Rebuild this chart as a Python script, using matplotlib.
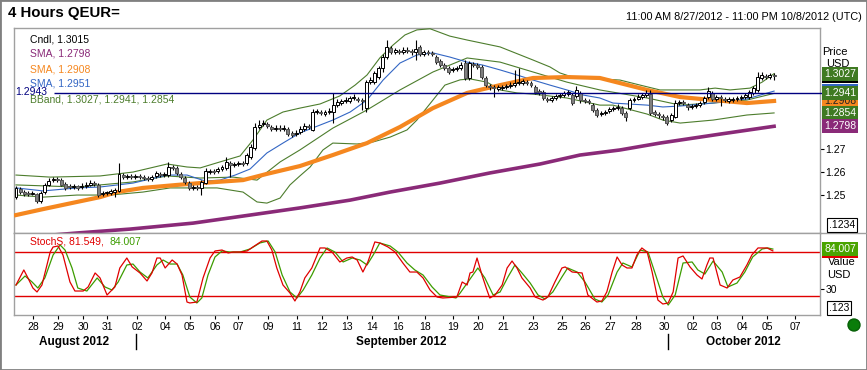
import matplotlib
matplotlib.use("Agg")
import matplotlib.pyplot as plt
from matplotlib.patches import Rectangle, Ellipse
from matplotlib.lines import Line2D
from matplotlib.transforms import blended_transform_factory
import numpy as np

plt.rcParams["font.family"] = ["Liberation Sans", "DejaVu Sans"]

# ---- 4h candles, QEUR= 27 Aug - 5 Oct 2012 ----
OPEN = [
    1.2490, 1.2525, 1.2512, 1.2508, 1.2504, 1.2504, 1.2473, 1.2512, 1.2543, 1.2564,
    1.2569, 1.2564, 1.2547, 1.2538, 1.2534, 1.2538, 1.2534, 1.2538, 1.2543, 1.2551,
    1.2543, 1.2504, 1.2508, 1.2508, 1.2512, 1.2517, 1.2586, 1.2577, 1.2582, 1.2577,
    1.2582, 1.2577, 1.2573, 1.2569, 1.2582, 1.2591, 1.2586, 1.2586, 1.2621, 1.2617,
    1.2591, 1.2573, 1.2551, 1.2530, 1.2534, 1.2530, 1.2551, 1.2599, 1.2604, 1.2604,
    1.2612, 1.2617, 1.2638, 1.2630, 1.2634, 1.2638, 1.2638, 1.2664, 1.2704, 1.2795,
    1.2808, 1.2808, 1.2795, 1.2786, 1.2790, 1.2786, 1.2786, 1.2769, 1.2764, 1.2773,
    1.2786, 1.2799, 1.2782, 1.2860, 1.2860, 1.2851, 1.2860, 1.2860, 1.2890, 1.2899,
    1.2908, 1.2908, 1.2921, 1.2917, 1.2912, 1.2877, 1.2990, 1.2990, 1.3012, 1.3051,
    1.3099, 1.3138, 1.3121, 1.3125, 1.3121, 1.3130, 1.3125, 1.3121, 1.3143, 1.3112,
    1.3121, 1.3117, 1.3099, 1.3082, 1.3064, 1.3051, 1.3043, 1.3047, 1.3051, 1.3073,
    1.3008, 1.3069, 1.3064, 1.3056, 1.3008, 1.2973, 1.2969, 1.2960, 1.2964, 1.2969,
    1.2973, 1.2977, 1.2986, 1.2986, 1.2990, 1.2986, 1.2969, 1.2951, 1.2947, 1.2917,
    1.2912, 1.2921, 1.2930, 1.2934, 1.2938, 1.2934, 1.2930, 1.2943, 1.2912, 1.2908,
    1.2890, 1.2869, 1.2851, 1.2856, 1.2864, 1.2873, 1.2877, 1.2877, 1.2856, 1.2877,
    1.2912, 1.2917, 1.2925, 1.2934, 1.2938, 1.2860, 1.2851, 1.2843, 1.2838, 1.2825,
    1.2838, 1.2899, 1.2903, 1.2890, 1.2882, 1.2886, 1.2890, 1.2903, 1.2925, 1.2943,
    1.2917, 1.2925, 1.2917, 1.2908, 1.2912, 1.2917, 1.2921, 1.2925, 1.2925, 1.2943,
    1.2956, 1.3008, 1.3017, 1.3012, 1.3021,
]
HIGH = [
    1.2538, 1.2534, 1.2521, 1.2517, 1.2517, 1.2508, 1.2517, 1.2551, 1.2573, 1.2577,
    1.2577, 1.2573, 1.2556, 1.2547, 1.2547, 1.2543, 1.2551, 1.2556, 1.2564, 1.2560,
    1.2551, 1.2517, 1.2517, 1.2525, 1.2530, 1.2638, 1.2595, 1.2591, 1.2591, 1.2591,
    1.2591, 1.2586, 1.2582, 1.2586, 1.2604, 1.2599, 1.2599, 1.2643, 1.2630, 1.2625,
    1.2599, 1.2582, 1.2560, 1.2543, 1.2543, 1.2564, 1.2617, 1.2612, 1.2612, 1.2621,
    1.2630, 1.2664, 1.2647, 1.2643, 1.2647, 1.2647, 1.2682, 1.2721, 1.2812, 1.2825,
    1.2825, 1.2817, 1.2803, 1.2803, 1.2803, 1.2803, 1.2795, 1.2777, 1.2782, 1.2799,
    1.2812, 1.2808, 1.2873, 1.2873, 1.2869, 1.2869, 1.2877, 1.2943, 1.2917, 1.2917,
    1.2925, 1.2930, 1.2938, 1.2925, 1.2921, 1.2999, 1.3012, 1.3038, 1.3060, 1.3112,
    1.3173, 1.3147, 1.3138, 1.3134, 1.3143, 1.3143, 1.3134, 1.3173, 1.3151, 1.3130,
    1.3130, 1.3125, 1.3108, 1.3091, 1.3073, 1.3060, 1.3056, 1.3060, 1.3077, 1.3086,
    1.3082, 1.3077, 1.3073, 1.3064, 1.3017, 1.2982, 1.2977, 1.2977, 1.2977, 1.2982,
    1.2990, 1.3043, 1.3051, 1.3004, 1.2999, 1.2995, 1.2977, 1.2960, 1.2956, 1.2925,
    1.2930, 1.2938, 1.2943, 1.2951, 1.2956, 1.2943, 1.2973, 1.2951, 1.2921, 1.2917,
    1.2899, 1.2877, 1.2864, 1.2869, 1.2882, 1.2886, 1.2895, 1.2886, 1.2864, 1.2921,
    1.2925, 1.2938, 1.2943, 1.2956, 1.2956, 1.2869, 1.2860, 1.2851, 1.2847, 1.2856,
    1.2912, 1.2912, 1.2912, 1.2899, 1.2895, 1.2899, 1.2908, 1.2930, 1.2969, 1.2951,
    1.2934, 1.2934, 1.2925, 1.2925, 1.2925, 1.2930, 1.2934, 1.2943, 1.2956, 1.2973,
    1.3034, 1.3034, 1.3025, 1.3030, 1.3030,
]
LOW = [
    1.2482, 1.2504, 1.2495, 1.2495, 1.2499, 1.2464, 1.2464, 1.2504, 1.2538, 1.2556,
    1.2556, 1.2538, 1.2521, 1.2525, 1.2525, 1.2521, 1.2525, 1.2530, 1.2538, 1.2538,
    1.2490, 1.2495, 1.2499, 1.2499, 1.2490, 1.2512, 1.2569, 1.2569, 1.2569, 1.2569,
    1.2569, 1.2564, 1.2560, 1.2560, 1.2573, 1.2577, 1.2577, 1.2577, 1.2608, 1.2586,
    1.2569, 1.2547, 1.2521, 1.2521, 1.2521, 1.2499, 1.2547, 1.2591, 1.2591, 1.2595,
    1.2604, 1.2608, 1.2577, 1.2621, 1.2625, 1.2625, 1.2630, 1.2656, 1.2695, 1.2786,
    1.2799, 1.2790, 1.2777, 1.2777, 1.2777, 1.2777, 1.2756, 1.2751, 1.2756, 1.2764,
    1.2777, 1.2786, 1.2777, 1.2851, 1.2847, 1.2843, 1.2851, 1.2812, 1.2882, 1.2890,
    1.2899, 1.2899, 1.2912, 1.2903, 1.2869, 1.2860, 1.2982, 1.2982, 1.3004, 1.3034,
    1.3091, 1.3112, 1.3112, 1.3112, 1.3112, 1.3117, 1.3108, 1.3086, 1.3104, 1.3104,
    1.3108, 1.3104, 1.3069, 1.3056, 1.3043, 1.3025, 1.3034, 1.3038, 1.3043, 1.2999,
    1.2999, 1.3056, 1.3047, 1.3004, 1.2969, 1.2956, 1.2925, 1.2951, 1.2956, 1.2960,
    1.2964, 1.2969, 1.2977, 1.2977, 1.2977, 1.2969, 1.2938, 1.2934, 1.2912, 1.2903,
    1.2903, 1.2912, 1.2921, 1.2925, 1.2930, 1.2890, 1.2921, 1.2899, 1.2899, 1.2895,
    1.2860, 1.2838, 1.2843, 1.2847, 1.2856, 1.2864, 1.2869, 1.2847, 1.2821, 1.2869,
    1.2903, 1.2912, 1.2917, 1.2925, 1.2847, 1.2843, 1.2834, 1.2825, 1.2803, 1.2817,
    1.2834, 1.2890, 1.2890, 1.2869, 1.2873, 1.2877, 1.2882, 1.2895, 1.2917, 1.2908,
    1.2908, 1.2886, 1.2903, 1.2899, 1.2903, 1.2908, 1.2912, 1.2917, 1.2917, 1.2934,
    1.2947, 1.2999, 1.3004, 1.3004, 1.2999,
]
CLOSE = [
    1.2530, 1.2512, 1.2504, 1.2504, 1.2508, 1.2473, 1.2508, 1.2543, 1.2560, 1.2569,
    1.2564, 1.2543, 1.2530, 1.2534, 1.2538, 1.2530, 1.2538, 1.2543, 1.2551, 1.2547,
    1.2499, 1.2508, 1.2512, 1.2517, 1.2521, 1.2591, 1.2577, 1.2582, 1.2577, 1.2582,
    1.2577, 1.2573, 1.2569, 1.2577, 1.2595, 1.2586, 1.2591, 1.2621, 1.2617, 1.2595,
    1.2577, 1.2556, 1.2530, 1.2534, 1.2530, 1.2556, 1.2604, 1.2604, 1.2599, 1.2612,
    1.2621, 1.2643, 1.2630, 1.2634, 1.2638, 1.2634, 1.2673, 1.2708, 1.2795, 1.2803,
    1.2812, 1.2799, 1.2786, 1.2790, 1.2786, 1.2790, 1.2764, 1.2760, 1.2769, 1.2786,
    1.2799, 1.2795, 1.2860, 1.2864, 1.2856, 1.2860, 1.2864, 1.2890, 1.2903, 1.2908,
    1.2912, 1.2921, 1.2925, 1.2912, 1.2908, 1.2990, 1.2999, 1.3030, 1.3051, 1.3099,
    1.3143, 1.3121, 1.3130, 1.3121, 1.3130, 1.3125, 1.3121, 1.3134, 1.3112, 1.3121,
    1.3117, 1.3112, 1.3077, 1.3064, 1.3051, 1.3034, 1.3047, 1.3051, 1.3064, 1.3008,
    1.3073, 1.3064, 1.3056, 1.3012, 1.2977, 1.2969, 1.2964, 1.2969, 1.2969, 1.2973,
    1.2977, 1.2986, 1.2990, 1.2995, 1.2986, 1.2977, 1.2947, 1.2943, 1.2921, 1.2912,
    1.2921, 1.2930, 1.2934, 1.2943, 1.2947, 1.2899, 1.2956, 1.2912, 1.2908, 1.2903,
    1.2869, 1.2847, 1.2856, 1.2860, 1.2873, 1.2877, 1.2882, 1.2856, 1.2838, 1.2912,
    1.2917, 1.2925, 1.2934, 1.2943, 1.2856, 1.2851, 1.2847, 1.2838, 1.2812, 1.2847,
    1.2899, 1.2903, 1.2899, 1.2882, 1.2886, 1.2890, 1.2899, 1.2921, 1.2951, 1.2917,
    1.2925, 1.2921, 1.2912, 1.2917, 1.2917, 1.2921, 1.2925, 1.2934, 1.2947, 1.2964,
    1.3012, 1.3021, 1.3012, 1.3021, 1.3015,
]

# ---- overlays: vertices (bar position, value) ----
SMA_LONG_BAR = [0, 14.8, 27.7, 43.0, 56.8, 68.9, 81.1, 90.8, 102.9, 115.0, 127.2,
                136.9, 146.6, 156.3, 170.9, 184]
SMA_LONG_VAL = [1.2312, 1.2334, 1.2351, 1.2377, 1.2412, 1.2443, 1.2477, 1.2512,
                1.2551, 1.2595, 1.2634, 1.2673, 1.2695, 1.2725, 1.2764, 1.2798]

SMA_MID_BAR = [0, 6.6, 14.8, 20.4, 24.5, 30.8, 39.1, 44.7, 55.1, 60.9, 68.9, 76.9,
               85.2, 93.2, 101.2, 109.5, 117.5, 125.5, 133.7, 141.7, 153.2, 161.2,
               169.2, 177.4, 184]
SMA_MID_VAL = [1.2412, 1.2438, 1.2469, 1.2490, 1.2512, 1.2530, 1.2543, 1.2551,
               1.2564, 1.2591, 1.2625, 1.2673, 1.2725, 1.2795, 1.2877, 1.2943,
               1.2977, 1.3008, 1.3012, 1.3008, 1.2956, 1.2925, 1.2912, 1.2899, 1.2908]

SMA_SHORT_BAR = [0, 6.6, 14.8, 20.4, 28.4, 36.7, 41.5, 45.9, 49.5, 53.2, 56.8, 60.9,
                 64.8, 68.9, 76.9, 81.1, 85.2, 89.1, 93.2, 97.3, 101.2, 105.3, 109.5,
                 113.3, 117.5, 121.6, 125.5, 129.6, 133.7, 137.6, 141.7, 144.9, 153.2,
                 157.0, 161.2, 169.2, 177.4, 184]
SMA_SHORT_VAL = [1.2530, 1.2517, 1.2530, 1.2534, 1.2551, 1.2586, 1.2586, 1.2560,
                 1.2564, 1.2586, 1.2612, 1.2682, 1.2725, 1.2769, 1.2825, 1.2860,
                 1.2912, 1.2999, 1.3073, 1.3108, 1.3117, 1.3099, 1.3077, 1.3064,
                 1.3043, 1.3021, 1.2999, 1.2977, 1.2956, 1.2934, 1.2921, 1.2899,
                 1.2890, 1.2882, 1.2886, 1.2899, 1.2917, 1.2951]

BB_UP_BAR = [0, 8.3, 20.4, 28.4, 36.7, 41.5, 44.7, 49.5, 54.4, 57.5, 60.9, 64.8, 68.9,
             73.8, 78.6, 82.3, 85.2, 88.3, 91.5, 94.4, 97.3, 100.5, 105.3, 109.5,
             117.5, 125.5, 129.6, 132.0, 135.7, 141.7, 146.6, 151.5, 156.3, 166.0,
             169.7, 173.3, 178.2, 181.1, 184]
BB_UP_VAL = [1.2586, 1.2577, 1.2582, 1.2599, 1.2634, 1.2621, 1.2617, 1.2643, 1.2669,
             1.2738, 1.2825, 1.2860, 1.2877, 1.2895, 1.2930, 1.2977, 1.3021, 1.3095,
             1.3151, 1.3195, 1.3217, 1.3222, 1.3190, 1.3173, 1.3143, 1.3086, 1.3056,
             1.3030, 1.3008, 1.3004, 1.2999, 1.2977, 1.2956, 1.2956, 1.2964, 1.2956,
             1.2964, 1.2990, 1.3027]

BB_MID_BAR = [0, 14.8, 28.4, 36.7, 44.7, 52.7, 58.5, 64.1, 68.9, 76.9, 85.2, 93.2,
              101.2, 109.5, 117.5, 125.5, 133.7, 141.7, 153.2, 161.2, 169.2, 177.4, 184]
BB_MID_VAL = [1.2543, 1.2534, 1.2556, 1.2582, 1.2573, 1.2577, 1.2564, 1.2643, 1.2695,
              1.2790, 1.2869, 1.2956, 1.3034, 1.3095, 1.3077, 1.3034, 1.2990, 1.2956,
              1.2921, 1.2890, 1.2899, 1.2912, 1.2941]

BB_LOW_BAR = [0, 6.6, 14.8, 22.8, 30.8, 37.4, 48.8, 55.1, 58.5, 60.9, 64.1, 66.5,
              68.9, 71.4, 74.5, 76.9, 82.8, 86.7, 90.8, 94.9, 97.3, 101.2, 104.1,
              107.8, 110.2, 114.3, 117.5, 121.6, 125.5, 133.7, 141.7, 144.9, 153.2,
              157.0, 161.2, 169.2, 177.4, 184]
BB_LOW_VAL = [1.2499, 1.2490, 1.2499, 1.2499, 1.2512, 1.2530, 1.2530, 1.2512, 1.2469,
              1.2464, 1.2486, 1.2543, 1.2582, 1.2621, 1.2695, 1.2725, 1.2721, 1.2730,
              1.2751, 1.2782, 1.2825, 1.2912, 1.2977, 1.3000, 1.3004, 1.2990, 1.2956,
              1.2943, 1.2938, 1.2921, 1.2890, 1.2890, 1.2851, 1.2825, 1.2812, 1.2825,
              1.2847, 1.2856]

# ---- slow stochastic (%K red, %D green) ----
K_BAR = [0, 1.9, 2.9, 4.1, 5.1, 6.3, 8.3, 9.0, 10.2, 11.4,
         13.1, 14.3, 16.3, 17.5, 19.2, 20.4, 22.1, 24.0, 25.2, 26.9,
         28.2, 30.1, 31.8, 33.0, 34.2, 35.0, 36.2, 37.9, 39.1, 40.3,
         41.5, 42.2, 43.9, 45.4, 47.1, 48.3, 50.0, 51.5, 52.7, 54.4,
         56.1, 57.5, 59.7, 60.9, 62.1, 63.3, 64.8, 66.5, 67.7, 68.9,
         70.1, 71.8, 72.6, 73.8, 75.0, 76.7, 78.6, 80.3, 81.6, 82.8,
         84.2, 85.4, 87.1, 88.3, 90.3, 92.0, 93.9, 95.6, 97.3, 98.8,
         100.5, 102.2, 103.6, 107.0, 108.3, 109.5, 110.2, 110.9, 111.9, 113.1,
         114.3, 115.0, 116.3, 118.0, 119.2, 120.4, 121.6, 122.8, 124.8, 126.0,
         127.9, 129.1, 130.8, 132.5, 133.3, 135.0, 137.4, 138.8, 141.0, 142.2,
         143.4, 144.7, 145.9, 147.1, 148.3, 149.5, 150.7, 151.9, 153.2, 154.4,
         155.8, 157.0, 158.3, 159.5, 160.7, 161.9, 163.6, 165.3, 166.5, 167.7,
         168.4, 169.2, 170.9, 172.6, 174.0, 175.7, 177.4, 178.6, 180.1, 182.3,
         183.7]
K_VAL = [35.0, 55.5, 44.6, 30.9, 25.5, 35.0, 80.0, 86.8, 88.2, 75.9,
         39.1, 26.8, 26.8, 32.3, 51.4, 44.6, 21.4, 32.3, 58.2, 71.8,
         59.6, 51.4, 40.5, 51.4, 71.8, 71.8, 58.2, 69.1, 63.6, 48.6,
         11.8, 10.5, 11.8, 44.6, 71.8, 81.4, 82.7, 78.7, 80.0, 80.0,
         81.4, 86.8, 95.0, 95.0, 82.7, 58.2, 35.0, 24.1, 13.2, 25.5,
         44.6, 58.2, 69.1, 85.5, 85.5, 80.0, 66.4, 71.8, 73.2, 69.1,
         52.7, 66.4, 93.7, 92.3, 86.8, 80.0, 65.0, 52.7, 52.7, 44.6,
         28.2, 18.6, 17.3, 18.6, 39.1, 35.0, 51.4, 52.7, 71.8, 48.6,
         28.2, 17.3, 21.4, 35.0, 58.2, 67.7, 58.2, 44.6, 30.9, 18.6,
         14.5, 18.6, 39.1, 58.2, 59.6, 52.7, 51.4, 21.4, 11.8, 13.2,
         25.5, 52.7, 73.2, 62.3, 58.2, 58.2, 75.9, 85.5, 80.0, 52.7,
         14.5, 9.1, 10.5, 25.5, 71.8, 74.6, 59.6, 48.6, 43.2, 62.3,
         71.8, 71.8, 35.0, 30.9, 41.8, 45.9, 62.3, 75.9, 85.5, 85.5,
         81.5]
D_BAR = [0, 2.2, 3.9, 5.3, 7.0, 9.0, 10.7, 11.9, 13.6, 15.0,
         17.2, 19.7, 21.6, 23.3, 24.8, 26.9, 28.4, 30.1, 32.0, 34.2,
         35.7, 37.4, 39.1, 40.5, 42.2, 43.9, 45.1, 46.6, 48.3, 50.0,
         51.9, 54.4, 56.8, 59.2, 61.2, 62.9, 64.6, 66.5, 68.2, 69.7,
         71.8, 73.8, 75.5, 77.4, 79.4, 81.6, 83.5, 85.2, 86.7, 88.3,
         90.8, 92.7, 94.9, 96.8, 98.8, 101.0, 102.9, 106.8, 107.8, 109.7,
         112.1, 113.8, 115.8, 117.5, 119.4, 121.1, 122.8, 124.8, 126.7, 128.4,
         130.3, 132.5, 133.9, 136.2, 138.1, 140.5, 142.2, 143.7, 145.9, 147.3,
         149.5, 151.5, 153.4, 155.1, 157.0, 158.3, 160.0, 161.9, 164.1, 165.5,
         167.2, 169.2, 171.4, 172.8, 175.0, 176.9, 178.8, 181.1, 182.5, 183.7]
D_VAL = [35.0, 47.3, 39.1, 30.9, 44.6, 75.9, 89.6, 82.7, 58.2, 30.9,
         26.8, 44.6, 32.3, 28.2, 39.1, 62.3, 63.6, 52.7, 44.6, 62.3,
         69.1, 63.6, 63.6, 48.6, 18.6, 10.5, 17.3, 48.6, 73.2, 81.4,
         80.0, 80.0, 84.1, 92.3, 95.0, 80.0, 48.6, 25.5, 17.3, 28.2,
         48.6, 71.8, 85.5, 80.0, 66.4, 71.8, 69.1, 62.3, 75.9, 92.3,
         88.2, 80.0, 65.0, 55.5, 48.6, 32.3, 21.4, 17.3, 24.1, 39.1,
         58.2, 44.6, 21.4, 25.5, 45.9, 62.3, 51.4, 37.7, 21.4, 15.9,
         25.5, 45.9, 58.2, 52.7, 39.1, 15.9, 11.8, 21.4, 52.7, 65.0,
         59.6, 82.7, 80.0, 51.4, 18.6, 7.7, 21.4, 65.0, 66.4, 55.5,
         50.0, 67.7, 52.7, 32.3, 37.7, 52.7, 73.2, 84.1, 85.5, 84.0]
STOCH_BANDS = [20, 80]

# ---- date axis ----
TICK_BAR = [4.1, 10.2, 16.3, 22.1, 29.4, 36.2, 42.2, 48.3, 53.9, 61.2, 68.2, 74.3,
            80.3, 86.4, 92.7, 99.3, 106.1, 112.1, 118.2, 125.5, 132.5, 138.1, 144.2,
            150.5, 157.3, 164.3, 170.1, 176.2, 182.3, 189.1]
TICK_LABELS = ["28", "29", "30", "31", "02", "04", "05", "06", "07", "09", "11", "12",
               "13", "14", "16", "18", "19", "20", "21", "23", "25", "26", "27", "28",
               "30", "02", "03", "04", "05", "07"]
MONTHS = ["August 2012", "September 2012", "October 2012"]
MONTH_BAR = [14.2, 93.4, 176.5]
MONTH_SPLIT_BAR = [29.1, 158.3]

HLINE_VAL = 1.2943

PURPLE = "#8a2a78"
ORANGE = "#f5871f"
BLUE = "#3366c4"
BB_GREEN = "#4d7d2d"
RED = "#e00000"
ST_GREEN = "#3c9c00"
GRID = "#a0a0a0"

W, H = 867, 370
BAR_PX, X0_PX = 4.12, 16


def frame(l, t, r, b):
    return [l / W, 1 - b / H, (r - l) / W, (b - t) / H]


def ftext(x, y, s, **kw):
    kw.setdefault("va", "center")
    kw.setdefault("fontsize", 7.5)
    return fig.text(x / W, 1 - y / H, s, **kw)


fig = plt.figure(figsize=(W / 100, H / 100), dpi=100)
fig.patch.set_facecolor("white")

ax = fig.add_axes(frame(14, 28, 820, 233))
axs = fig.add_axes(frame(14, 233, 820, 315), sharex=ax)
ax.set_xlim((14 - X0_PX) / BAR_PX, (820 - X0_PX) / BAR_PX)
ax.set_ylim(1.2334, 1.32253)
axs.set_ylim(-5.9, 105.9)

for a in (ax, axs):
    for s in a.spines.values():
        s.set_color(GRID)
        s.set_linewidth(1)

# candles
o, h, l, c = map(np.array, (OPEN, HIGH, LOW, CLOSE))
idx = np.arange(len(c))
up = c >= o
ax.vlines(idx, l, h, color="black", lw=0.8, zorder=4)
ax.bar(idx[up], c[up] - o[up], bottom=o[up], width=0.72, color="white",
       edgecolor="black", lw=0.7, zorder=5)
ax.bar(idx[~up], o[~up] - c[~up], bottom=c[~up], width=0.72, color="#7f7f7f",
       edgecolor="#505050", lw=0.7, zorder=5)

# overlays
ax.plot(BB_UP_BAR, BB_UP_VAL, color=BB_GREEN, lw=0.8, zorder=3)
ax.plot(BB_MID_BAR, BB_MID_VAL, color=BB_GREEN, lw=0.8, zorder=3)
ax.plot(BB_LOW_BAR, BB_LOW_VAL, color=BB_GREEN, lw=0.8, zorder=3)
ax.plot(SMA_SHORT_BAR, SMA_SHORT_VAL, color=BLUE, lw=0.8, zorder=3)
ax.plot(SMA_MID_BAR, SMA_MID_VAL, color=ORANGE, lw=3.0, zorder=3)
ax.plot(SMA_LONG_BAR, SMA_LONG_VAL, color=PURPLE, lw=2.6, zorder=3)
ax.hlines(HLINE_VAL, (54 - X0_PX) / BAR_PX, (823 - X0_PX) / BAR_PX,
          colors="#000080", lw=1, zorder=6, clip_on=False)

ax.tick_params(axis="x", bottom=False, labelbottom=False)
ax.yaxis.tick_right()
ax.set_yticks([1.25, 1.26, 1.27])
ax.set_yticklabels(["1.25", "1.26", "1.27"])
ax.tick_params(axis="y", length=3, pad=1, labelsize=7.5, color="black")

# stochastic panel
for lvl in STOCH_BANDS:
    axs.axhline(lvl, color=RED, lw=1, zorder=2)
axs.plot(D_BAR, D_VAL, color=ST_GREEN, lw=0.9, zorder=3)
axs.plot(K_BAR, K_VAL, color=RED, lw=0.9, zorder=4)
axs.yaxis.tick_right()
axs.set_yticks([30])
axs.set_yticklabels(["30"])
axs.tick_params(axis="y", length=3, pad=1, labelsize=7.5, color="black")
axs.set_xticks(TICK_BAR)
axs.set_xticklabels(TICK_LABELS)
axs.tick_params(axis="x", length=3, pad=2, labelsize=7.5, color="black")

# month row
tr_m = blended_transform_factory(axs.transData, fig.transFigure)
for name, b in zip(MONTHS, MONTH_BAR):
    axs.text(b, 1 - 342 / H, name, transform=tr_m, ha="center", va="center",
             fontsize=8.5, fontweight="bold")
for b in MONTH_SPLIT_BAR:
    axs.add_line(Line2D([b, b], [1 - 334 / H, 1 - 349 / H], transform=tr_m,
                        color="black", lw=1, clip_on=False))

fig.add_artist(Line2D([820 / W, 1], [1 - 233 / H] * 2, color=GRID, lw=1))


# right-hand value boxes (stacked like the terminal draws them)
def value_box(axis, val, text, fc, z, tc="white"):
    yf = axis.transData.transform((0, val))[1] / fig.bbox.height
    hh = 14 / H
    fig.add_artist(Rectangle((822 / W, yf - hh / 2), 36 / W, hh,
                             transform=fig.transFigure, fc=fc, ec="none", zorder=z))
    fig.text(840 / W, yf, text, ha="center", va="center", color=tc,
             fontsize=7.5, zorder=z + 0.5)


ftext(822, 52, "Price", fontsize=8)
ftext(826, 64, "USD", fontsize=8)
value_box(ax, 1.3015, "1.3015", "black", 10)
value_box(ax, 1.2951, "1.2951", BLUE, 11)
value_box(ax, 1.2908, "1.2908", ORANGE, 12, tc="#222222")
value_box(ax, 1.3027, "1.3027", "#3f7a22", 13)
value_box(ax, 1.2941, "1.2941", "#3f7a22", 14)
value_box(ax, 1.2854, "1.2854", "#3f7a22", 15)
value_box(ax, 1.2798, "1.2798", PURPLE, 16)

ftext(828, 262, "Value", fontsize=8)
ftext(827, 275, "USD", fontsize=8)
value_box(axs, 81.549, "81.549", RED, 10)
value_box(axs, 84.007, "84.007", "#4aa400", 11)

box = dict(boxstyle="square,pad=0.15", fc="white", ec="black", lw=0.8)
ftext(829, 225, ".1234", bbox=box)
ftext(829, 308, ".123", bbox=box)

fig.add_artist(Ellipse((854 / W, 1 - 325 / H), 12 / W, 12 / H,
                       transform=fig.transFigure, fc="#0a7d0a", ec="#066006"))

# legends
ftext(30, 39, "Cndl, 1.3015", color="black")
ftext(30, 54, "SMA, 1.2798", color=PURPLE)
ftext(30, 69, "SMA, 1.2908", color=ORANGE)
ftext(30, 84, "SMA, 1.2951", color=BLUE)
ftext(30, 99, "BBand, 1.3027, 1.2941, 1.2854", color=BB_GREEN)
ftext(15, 92, "1.2943", color="#000080")
ftext(30, 242, "StochS, 81.549,", color=RED)
ftext(110, 242, "84.007", color=ST_GREEN)

# header
ftext(8, 13, "4 Hours QEUR=", fontsize=10.8, fontweight="bold")
ftext(862, 17, "11:00 AM 8/27/2012 - 11:00 PM 10/8/2012 (UTC)", fontsize=7.8, ha="right")

fig.add_artist(Rectangle((0, 0), 1, 1, transform=fig.transFigure, fill=False,
                         ec="#808080", lw=2))

fig.savefig("out.png", dpi=100)
